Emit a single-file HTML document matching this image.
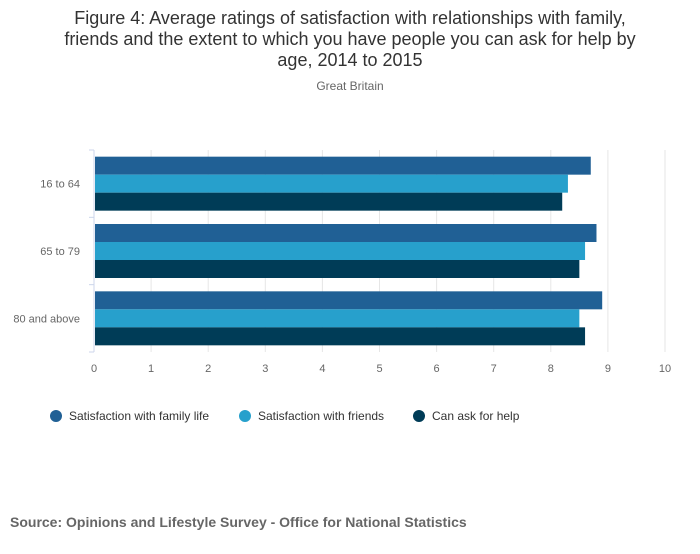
<!DOCTYPE html>
<html><head><meta charset="utf-8"><style>
body{margin:0;background:#fff;font-family:"Liberation Sans",sans-serif;}
</style></head><body>
<svg width="700" height="549" xmlns="http://www.w3.org/2000/svg" font-family="Liberation Sans, sans-serif">
<rect width="700" height="549" fill="#fff"/>
<g fill="#333" font-size="18" text-anchor="middle">
<text x="350" y="24">Figure 4: Average ratings of satisfaction with relationships with family,</text>
<text x="350" y="45">friends and the extent to which you have people you can ask for help by</text>
<text x="350" y="66">age, 2014 to 2015</text>
</g>
<text x="350" y="90" font-size="12" fill="#666" text-anchor="middle">Great Britain</text>
<g id="grid"></g><g id="bars"></g><g id="axes"></g>
<g id="legend"></g>
<text x="10" y="527" font-size="14" font-weight="bold" fill="#666">Source: Opinions and Lifestyle Survey - Office for National Statistics</text>
</svg>
<script>
const categories=["16 to 64","65 to 79","80 and above"];
const seriesNames=["Satisfaction with family life","Satisfaction with friends","Can ask for help"];
const family=[8.7,8.8,8.9];
const friends=[8.3,8.6,8.5];
const help=[8.2,8.5,8.6];
const xTicks=[0,1,2,3,4,5,6,7,8,9,10];
const colors=["#206095","#27a0cc","#003c57"];
const NS="http://www.w3.org/2000/svg";
const x0=94,x1=665,y0=150,y1=352;
const xs=v=>x0+(x1-x0)*v/10;
const band=(y1-y0)/categories.length;
function mk(t,a,p){const e=document.createElementNS(NS,t);for(const k in a)e.setAttribute(k,a[k]);p.appendChild(e);return e;}
const grid=document.getElementById('grid'),bars=document.getElementById('bars'),axes=document.getElementById('axes'),leg=document.getElementById('legend');
xTicks.forEach(t=>{
 if(t>0){const l=mk('line',{x1:xs(t),x2:xs(t),y1:y0,y2:y1,stroke:'#e6e6e6'},grid);
 
 }
 const tx=mk('text',{x:xs(t),y:372,'font-size':11,fill:'#666','text-anchor':'middle'},axes);tx.textContent=t;
 
 
});
const al=mk('line',{x1:x0,x2:x0,y1:y0,y2:y1,stroke:'#ccd6eb'},axes);


for(let i=0;i<=categories.length;i++){const tk=mk('line',{x1:x0-5,x2:x0,y1:y0+i*band,y2:y0+i*band,stroke:'#ccd6eb'},axes);
 
 }
const data=[family,friends,help];
const bh=18,pad=(band-3*bh)/2;
categories.forEach((c,i)=>{
 const lb=mk('text',{x:80,y:y0+i*band+band/2+4,'font-size':11,fill:'#666','text-anchor':'end'},axes);lb.textContent=c;
 
 
 data.forEach((s,j)=>{
  const r=mk('rect',{x:x0+1,y:y0+i*band+pad+j*bh,width:xs(s[i])-x0-1,height:bh,fill:colors[j]},bars);
  
  
 });
});
const lx=[56,245,419];
seriesNames.forEach((n,j)=>{
 const g=mk('g',{},leg);
 
 
 mk('circle',{cx:lx[j],cy:416,r:6,fill:colors[j]},g);
 const t=mk('text',{x:lx[j]+13,y:420,'font-size':12,fill:'#333'},g);t.textContent=n;
});
</script>
</body></html>
